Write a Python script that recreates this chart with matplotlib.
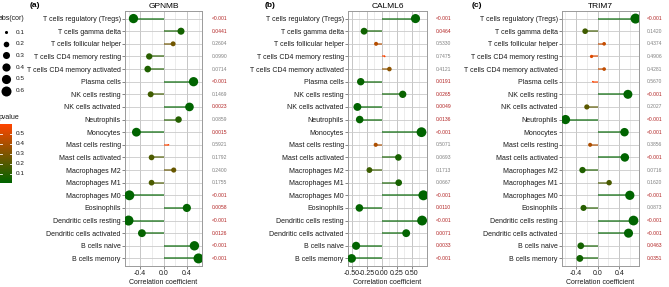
import numpy as np
import matplotlib
matplotlib.use("Agg")
import matplotlib.pyplot as plt
from matplotlib.colors import LinearSegmentedColormap
import matplotlib.transforms as mtransforms

plt.rcParams['font.family'] = ['Liberation Sans', 'DejaVu Sans']

# ---------------- data ----------------
cells = ["T cells regulatory (Tregs)", "T cells gamma delta", "T cells follicular helper",
         "T cells CD4 memory resting", "T cells CD4 memory activated", "Plasma cells",
         "NK cells resting", "NK cells activated", "Neutrophils", "Monocytes",
         "Mast cells resting", "Mast cells activated", "Macrophages M2", "Macrophages M1",
         "Macrophages M0", "Eosinophils", "Dendritic cells resting", "Dendritic cells activated",
         "B cells naive", "B cells memory"]

gpnmb_cor = [-0.515, 0.300, 0.165, -0.245, -0.270, 0.515, -0.220, 0.445, 0.258, -0.465,
             0.085, -0.205, 0.175, -0.205, -0.585, 0.400, -0.600, -0.370, 0.530, 0.600]
gpnmb_p = [0.0001, 0.0441, 0.2604, 0.0990, 0.0714, 0.0001, 0.1469, 0.0023, 0.0859, 0.0015,
           0.5921, 0.1792, 0.2400, 0.1755, 0.0001, 0.0058, 0.0001, 0.0126, 0.0001, 0.0001]

calml6_cor = [0.560, -0.297, -0.097, 0.047, 0.125, -0.353, 0.347, -0.408, -0.370, 0.660,
              -0.103, 0.275, -0.208, 0.280, 0.692, -0.375, 0.670, 0.405, -0.430, -0.505]
calml6_p = [0.0001, 0.0464, 0.5330, 0.7475, 0.4121, 0.0191, 0.0265, 0.0049, 0.0136, 0.0001,
            0.5071, 0.0693, 0.1713, 0.0667, 0.0001, 0.0110, 0.0001, 0.0071, 0.0033, 0.0001]

trim7_cor = [0.700, -0.228, 0.122, -0.110, 0.122, -0.087, 0.560, -0.197, -0.590, 0.497,
             -0.136, 0.503, -0.277, 0.214, 0.595, -0.258, 0.663, 0.571, -0.308, -0.326]
trim7_p = [0.0001, 0.1420, 0.4374, 0.4906, 0.4281, 0.5670, 0.0001, 0.2027, 0.0001, 0.0001,
           0.3856, 0.0001, 0.0716, 0.1620, 0.0001, 0.0873, 0.0001, 0.0001, 0.0463, 0.0351]

genes = ["GPNMB", "CALML6", "TRIM7"]
panel_labels = ["(a)", "(b)", "(c)"]
size_legend_values = [0.1, 0.2, 0.3, 0.4, 0.5, 0.6]
pvalue_legend_values = [0.1, 0.2, 0.3, 0.4, 0.5]

# ---------------- layout ----------------
W, H = 669, 287
fig = plt.figure(figsize=(W / 100, H / 100), dpi=100)
cmap = LinearSegmentedColormap.from_list("pv", ["#006400", "#FF4500"])


def rect(l, r, t, b):
    return [l / W, 1 - b / H, (r - l) / W, (b - t) / H]


def msize(v, vmin, vmax, dmax=10.0):
    r = np.clip((np.abs(np.asarray(v)) - vmin) / (vmax - vmin), 0, 1)
    s = 1 + 5 * np.sqrt(r)
    d_px = s / 6 * dmax
    return (d_px * 0.72) ** 2


panels = [
    dict(cor=gpnmb_cor, p=gpnmb_p, box=(125, 202, 11, 266), ptx=211.5, lx=35,
         major=[-0.4, 0.0, 0.4], minor=[-0.6, -0.2, 0.2, 0.6],
         labels=["-0.4", "0.0", "0.4"]),
    dict(cor=calml6_cor, p=calml6_p, box=(348, 427, 11, 266), ptx=436, lx=270,
         major=[-0.5, -0.25, 0.0, 0.25, 0.5], minor=[-0.375, -0.125, 0.125, 0.375, 0.625],
         labels=["-0.50", "-0.25", "0.00", "0.25", "0.50"]),
    dict(cor=trim7_cor, p=trim7_p, box=(562, 639, 11, 266), ptx=646.5, lx=477,
         major=[-0.4, 0.0, 0.4], minor=[-0.6, -0.2, 0.2, 0.6],
         labels=["-0.4", "0.0", "0.4"]),
]

size_ranges = []
for i, pn in enumerate(panels):
    cor = np.array(pn["cor"])
    pv = np.array(pn["p"])
    l, r, t, b = pn["box"]
    ax = fig.add_axes(rect(l, r, t, b))
    y = np.arange(len(cells))
    ax.set_ylim(len(cells) - 0.4, -0.6)
    lo, hi = cor.min(), cor.max()
    pad = 0.05 * (hi - lo)
    ax.set_xlim(lo - pad, hi + pad)

    ax.set_xticks(pn["major"])
    ax.set_xticklabels(pn["labels"])
    ax.set_xticks(pn["minor"], minor=True)
    ax.set_yticks(y)
    ax.set_yticklabels(cells)
    ax.grid(which="major", axis="x", color="#bdbdbd", lw=0.6)
    ax.grid(which="minor", axis="x", color="#dedede", lw=0.4)
    ax.grid(which="major", axis="y", color="#cacaca", lw=0.6)
    ax.set_axisbelow(True)
    ax.tick_params(axis="x", which="minor", length=0)
    ax.tick_params(axis="both", which="major", length=2, width=0.5, color="#555555",
                   labelsize=5, labelcolor="#1a1a1a", pad=1)
    for sp in ax.spines.values():
        sp.set_color("#9a9a9a")
        sp.set_linewidth(0.7)

    norm = plt.Normalize(pv.min(), pv.max())
    cols = cmap(norm(pv))
    vmin, vmax = np.abs(cor).min(), np.abs(cor).max()
    size_ranges.append((vmin, vmax))
    ax.hlines(y, 0, cor, colors=cols, alpha=0.65, lw=1.3, zorder=2)
    ax.scatter(cor, y, s=msize(cor, vmin, vmax), c=cols, linewidths=0, zorder=3)

    ax.set_xlabel("Correlation coefficient", fontsize=5, labelpad=1.5, color="#1a1a1a")

    fig.text((l + r) / 2 / W, 1 - 6 / H, genes[i], ha="center", va="center", fontsize=6)
    fig.text(pn["lx"] / W, 1 - 5.5 / H, panel_labels[i], ha="center", va="center",
             fontsize=6, fontweight="bold")

    trans = mtransforms.blended_transform_factory(fig.transFigure, ax.transData)
    for yi, p in zip(y, pv):
        lab = "<0.001" if p < 0.001 else f"{p:.4f}"
        col = "#B22222" if p < 0.05 else "#808080"
        ax.text(pn["ptx"] / W, yi, lab, transform=trans, fontsize=3.6, color=col,
                ha="left", va="center", clip_on=False)

# ---------------- legends ----------------
lax = fig.add_axes([0, 0, 1, 1], zorder=-1)
lax.set_xlim(0, W)
lax.set_ylim(H, 0)
lax.axis("off")

vmin_a, vmax_a = size_ranges[0]
lax.text(-1, 18.5, "abs(cor)", fontsize=5, ha="left", va="center", color="#1a1a1a")
for k, v in enumerate(size_legend_values):
    yy = 32 + 11.7 * k
    lax.scatter([6], [yy], s=msize(v, vmin_a, vmax_a), c="black", linewidths=0)
    lax.text(16, yy, f"{v}", fontsize=4.6, ha="left", va="center", color="#1a1a1a")

lax.text(-1, 117.5, "pvalue", fontsize=5, ha="left", va="center", color="#1a1a1a")
pa = np.array(gpnmb_p)
grad = np.linspace(1, 0, 200).reshape(-1, 1)
cb_top, cb_bot = 124.5, 183.5
lax.imshow(grad, extent=(0, 12, cb_bot, cb_top), aspect="auto", cmap=cmap,
           origin="upper", vmin=0, vmax=1, interpolation="bilinear")
for v in pvalue_legend_values:
    frac = (v - pa.min()) / (pa.max() - pa.min())
    yy = cb_bot - frac * (cb_bot - cb_top)
    lax.plot([0, 2.4], [yy, yy], color="white", lw=0.6)
    lax.plot([9.6, 12], [yy, yy], color="white", lw=0.6)
    lax.text(16, yy, f"{v}", fontsize=4.6, ha="left", va="center", color="#1a1a1a")

fig.savefig("out.png", dpi=100)
